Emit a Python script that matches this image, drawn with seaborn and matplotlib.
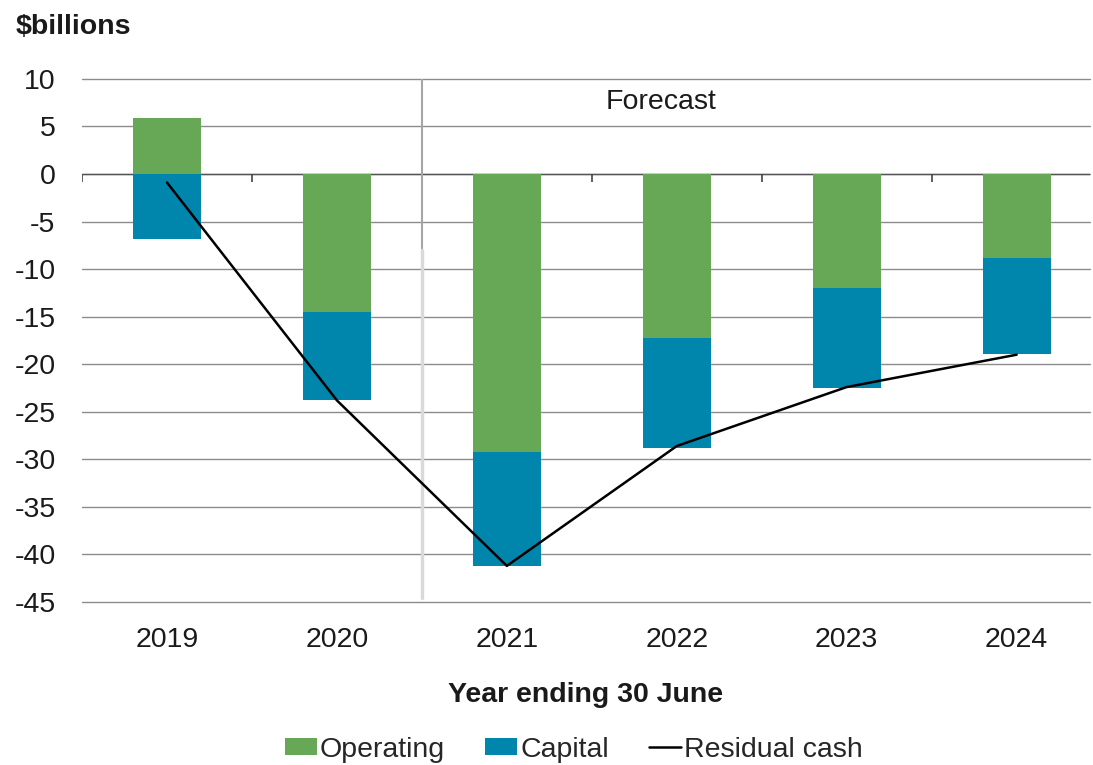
import matplotlib
matplotlib.use("Agg")
import matplotlib.pyplot as plt
import seaborn as sns
import numpy as np
import pandas as pd
from matplotlib.patches import Patch
from matplotlib.lines import Line2D

years = ["2019", "2020", "2021", "2022", "2023", "2024"]
operating = [5.9, -14.5, -29.2, -17.2, -12.0, -8.8]
capital = [-6.8, -9.3, -12.0, -11.6, -10.5, -10.1]
residual = [-0.9, -23.8, -41.2, -28.6, -22.4, -19.0]
yticks = [10, 5, 0, -5, -10, -15, -20, -25, -30, -35, -40, -45]

green = "#66a856"
blue = "#0085ad"
fs = 20.5

sns.set_theme(style="white")
plt.rcParams['font.family'] = ['Liberation Sans', 'DejaVu Sans']

fig = plt.figure(figsize=(10.93, 7.65), dpi=100)
ax = fig.add_axes([0.075, 0.213, 0.922, 0.684])

df = pd.DataFrame({"year": years, "operating": operating, "capital": capital})
cap_bottom = [o if o < 0 else 0 for o in operating]

for y in yticks:
    ax.axhline(y, color="#8c8c8c", lw=1.0, zorder=0, clip_on=False)

sns.barplot(data=df, x="year", y="operating", color=green, width=0.4,
            saturation=1, ax=ax, zorder=2, linewidth=0, edgecolor="none")
sns.barplot(data=df, x="year", y="capital", color=blue, width=0.4,
            saturation=1, ax=ax, bottom=cap_bottom, zorder=2, linewidth=0, edgecolor="none")

sns.lineplot(x=np.arange(len(years)), y=residual, color="black", lw=1.8,
             ax=ax, zorder=4)

ax.axhline(0, color="#555555", lw=1.0, zorder=1)
ax.vlines(np.arange(-0.5, len(years), 1.0), -0.9, 0, color="#444444", lw=1.2, zorder=1)

# forecast divider
ax.plot([1.5, 1.5], [10, -8], color="#a6a6a6", lw=1.5, zorder=1)
ax.plot([1.5, 1.5], [-8, -44.6], color="#d9d9d9", lw=2.5, zorder=1)
ax.text(2.91, 7.6, "Forecast", ha="center", va="center", fontsize=fs, color="#1a1a1a")

ax.set_xlim(-0.5, 5.43)
ax.set_ylim(-45, 10)
ax.set_yticks(yticks)
ax.set_yticklabels([str(v) for v in yticks])
ax.tick_params(axis="both", labelsize=fs, length=0, colors="#1a1a1a")
ax.tick_params(axis="x", pad=18)
ax.tick_params(axis="y", pad=19)
for s in ax.spines.values():
    s.set_visible(False)
ax.set_ylabel("")
ax.set_xlabel("Year ending 30 June", fontsize=fs, fontweight="bold", labelpad=21, color="#1a1a1a")

fig.text(0.014, 0.965, "$billions", fontsize=fs, fontweight="bold", ha="left", va="center", color="#1a1a1a")

handles = [Patch(facecolor=green, edgecolor="none"),
           Patch(facecolor=blue, edgecolor="none"),
           Line2D([0], [0], color="black", lw=1.8)]
fig.legend(handles, ["Operating", "Capital", "Residual cash"], loc="center",
           bbox_to_anchor=(0.525, 0.02), ncol=3, frameon=False, fontsize=fs,
           handlelength=1.12, handleheight=0.55, handletextpad=0.12, columnspacing=1.4)

fig.savefig("out.png", dpi=100)
